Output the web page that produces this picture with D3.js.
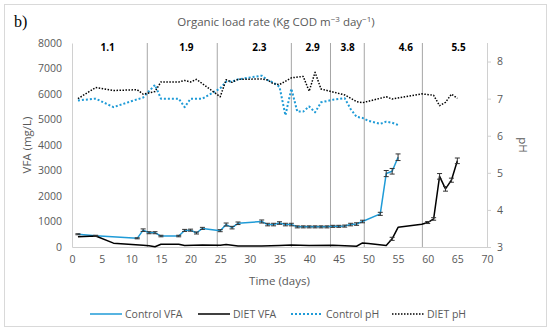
<!DOCTYPE html>
<html>
<head>
<meta charset="utf-8">
<script src="https://cdn.jsdelivr.net/npm/d3@7/dist/d3.min.js"></script>
<style>
  body { margin: 0; background: #fff; }
  text { font-family: "Open Sans", sans-serif; }
</style>
</head>
<body>
<svg id="chart" width="550" height="330"></svg>
<script>
// chart data
var controlVfaDays = [1, 4, 11, 12, 13, 14, 15, 18, 19, 20, 21, 22, 25, 26, 27, 28, 32, 33, 34, 35, 36, 37, 38, 39, 40, 41, 42, 43, 44, 45, 46, 47, 48, 49, 52, 53, 54, 55];
var controlVfa = [500, 440, 340, 660, 560, 560, 430, 430, 650, 660, 550, 730, 640, 880, 760, 930, 1000, 880, 880, 940, 880, 880, 790, 790, 790, 790, 790, 790, 810, 810, 820, 880, 900, 1000, 1300, 2880, 2970, 3520];
var controlVfaErr = [20, 20, 20, 50, 40, 40, 30, 30, 40, 40, 40, 40, 40, 60, 50, 50, 60, 50, 50, 50, 50, 50, 40, 40, 40, 40, 40, 40, 40, 40, 40, 50, 50, 50, 60, 120, 110, 130];

var dietVfaDays = [1, 4, 7, 12, 13, 14, 15, 18, 19, 22, 25, 26, 28, 32, 35, 37, 40, 44, 48, 49, 50, 53, 54, 55, 59, 60, 61, 62, 63, 64, 65];
var dietVfa = [400, 430, 150, 70, 50, 10, 110, 110, 60, 80, 70, 100, 40, 40, 60, 80, 60, 70, 30, 160, 140, 60, 320, 770, 890, 960, 1100, 2770, 2280, 2620, 3380];
var dietVfaErr = [0, 0, 0, 0, 0, 0, 0, 0, 0, 0, 0, 0, 0, 0, 0, 0, 0, 0, 0, 0, 0, 0, 60, 0, 0, 40, 50, 110, 90, 80, 110];

var controlPhDays = [1, 4, 7, 10, 12, 14, 15, 18, 19, 20, 22, 25, 26, 27, 28, 32, 33, 34, 35, 36, 37, 38, 39, 40, 41, 42, 44, 46, 47, 48, 49, 50, 52, 53, 54, 55];
var controlPh = [6.95, 7.0, 6.77, 6.93, 7.03, 7.37, 7.0, 7.0, 6.77, 7.0, 7.0, 7.28, 7.46, 7.46, 7.52, 7.62, 7.5, 7.43, 7.32, 6.55, 7.27, 6.65, 6.65, 6.79, 6.63, 6.9, 6.97, 7.01, 6.72, 6.51, 6.48, 6.4, 6.32, 6.38, 6.35, 6.29];

var dietPhDays = [1, 4, 7, 11, 12, 14, 15, 18, 19, 20, 21, 25, 26, 27, 28, 32, 33, 34, 35, 37, 39, 40, 41, 42, 44, 46, 48, 49, 51, 53, 54, 59, 61, 62, 63, 64, 65];
var dietPh = [7.0, 7.3, 7.22, 7.24, 7.12, 7.19, 7.45, 7.45, 7.49, 7.45, 7.52, 7.05, 7.51, 7.44, 7.52, 7.53, 7.5, 7.4, 7.38, 7.56, 7.6, 7.2, 7.71, 7.26, 7.18, 7.1, 6.92, 6.89, 6.97, 7.05, 6.99, 7.13, 7.09, 6.81, 6.9, 7.12, 7.01];

var olrLabels = ["1.1", "1.9", "2.3", "2.9", "3.8", "4.6", "5.5"];
var olrLabelDays = [6, 19.3, 31.6, 40.6, 46.5, 56.3, 65.2];
var olrBreakDays = [12.7, 24.5, 37, 43.6, 49.3, 59.1];

var xTicks = d3.range(0, 71, 5);
var vfaTicks = d3.range(0, 8001, 1000);
var phTicks = [3, 4, 5, 6, 7, 8];

var blue = "#1f9bd7";
var grey = "#595959";

var margin = { left: 72, right: 63, top: 43, bottom: 83 };
var width = 550, height = 330;

var svg = d3.select("#chart");

var x = d3.scaleLinear().domain([0, 70]).range([margin.left, width - margin.right]);
var yVfa = d3.scaleLinear().domain([0, 8000]).range([height - margin.bottom, margin.top]);
var yPh = d3.scaleLinear().domain([3, 8.5]).range([height - margin.bottom, margin.top]);

// outer frame
svg.append("rect")
    .attr("x", 4.5).attr("y", 4.5)
    .attr("width", 542).attr("height", 322)
    .attr("fill", "#fff")
    .attr("stroke", "#d9d9d9");

svg.append("text")
    .attr("x", 14).attr("y", 27)
    .style("font-family", "'Liberation Serif', serif")
    .style("font-size", "16px")
    .attr("fill", "#000")
    .text("b)");

var title = svg.append("text")
    .attr("x", 276).attr("y", 26)
    .attr("text-anchor", "middle")
    .style("font-size", "11.5px")
    .attr("fill", grey);
title.append("tspan").text("Organic load rate (Kg COD m");
title.append("tspan").attr("dy", -4).style("font-size", "8px").text("\u22123");
title.append("tspan").attr("dy", 4).text(" day");
title.append("tspan").attr("dy", -4).style("font-size", "8px").text("\u22121");
title.append("tspan").attr("dy", 4).text(")");

// axes
var fmt = d3.format("d");
var xAxis = d3.axisBottom(x).tickValues(xTicks).tickFormat(fmt).tickSize(0).tickPadding(9);
var leftAxis = d3.axisLeft(yVfa).tickValues(vfaTicks).tickFormat(fmt).tickSize(0).tickPadding(10);
var rightAxis = d3.axisRight(yPh).tickValues(phTicks).tickFormat(fmt).tickSize(4).tickPadding(6);

var gx = svg.append("g")
    .attr("transform", "translate(0," + (height - margin.bottom) + ")")
    .call(xAxis);
var gl = svg.append("g")
    .attr("transform", "translate(" + margin.left + ",0)")
    .call(leftAxis);
var gr = svg.append("g")
    .attr("transform", "translate(" + (width - margin.right) + ",0)")
    .call(rightAxis);

[gx, gl, gr].forEach(function (g) {
    g.select(".domain").attr("stroke", "#d0d0d0").attr("stroke-width", 1);
    g.selectAll(".tick line").attr("stroke", "#d0d0d0");
    g.selectAll(".tick text")
        .attr("fill", grey)
        .style("font-family", "'Open Sans', sans-serif")
        .style("font-size", "10.5px");
});
gr.select(".domain").attr("d", "M0.5," + yPh(8.5) + "V" + yPh(3));

// period separators
svg.selectAll(".sep")
    .data(olrBreakDays)
    .enter().append("line")
    .attr("class", "sep")
    .attr("x1", function (d) { return x(d); })
    .attr("x2", function (d) { return x(d); })
    .attr("y1", margin.top)
    .attr("y2", height - margin.bottom)
    .attr("stroke", "#a6a6a6")
    .attr("stroke-width", 1);

svg.selectAll(".olr")
    .data(olrLabels)
    .enter().append("text")
    .attr("class", "olr")
    .attr("x", function (d, i) { return x(olrLabelDays[i]); })
    .attr("y", margin.top + 8)
    .attr("text-anchor", "middle")
    .style("font-size", "10px")
    .style("font-weight", "bold")
    .attr("fill", "#000")
    .text(function (d) { return d; });

// axis titles
svg.append("text")
    .attr("transform", "translate(31," + ((margin.top + height - margin.bottom) / 2) + ") rotate(-90)")
    .attr("text-anchor", "middle")
    .style("font-size", "11.5px")
    .attr("fill", grey)
    .text("VFA (mg/L)");

svg.append("text")
    .attr("transform", "translate(519," + ((margin.top + height - margin.bottom) / 2) + ") rotate(90)")
    .attr("text-anchor", "middle")
    .style("font-size", "11.5px")
    .attr("fill", grey)
    .text("pH");

svg.append("text")
    .attr("x", x(35)).attr("y", 285)
    .attr("text-anchor", "middle")
    .style("font-size", "11.5px")
    .attr("fill", grey)
    .text("Time (days)");

function zip(days, vals, errs) {
    return days.map(function (d, i) { return { day: d, v: vals[i], e: errs ? errs[i] : 0 }; });
}

var vfaLine = d3.line()
    .x(function (d) { return x(d.day); })
    .y(function (d) { return yVfa(d.v); });
var phLine = d3.line()
    .x(function (d) { return x(d.day); })
    .y(function (d) { return yPh(d.v); });

var series = [
    { name: "Control pH", data: zip(controlPhDays, controlPh), line: phLine, color: blue, width: 2, dash: "2,2" },
    { name: "DIET pH", data: zip(dietPhDays, dietPh), line: phLine, color: "#000", width: 1.5, dash: "1.5,1.5" },
    { name: "Control VFA", data: zip(controlVfaDays, controlVfa, controlVfaErr), line: vfaLine, color: blue, width: 1.5, dash: null },
    { name: "DIET VFA", data: zip(dietVfaDays, dietVfa, dietVfaErr), line: vfaLine, color: "#000", width: 1.5, dash: null }
];

series.forEach(function (s) {
    svg.append("path")
        .datum(s.data)
        .attr("d", s.line)
        .attr("fill", "none")
        .attr("stroke", s.color)
        .attr("stroke-width", s.width)
        .attr("stroke-dasharray", s.dash)
        .attr("stroke-linejoin", "round");
});

// error bars on the VFA series
[series[2], series[3]].forEach(function (s) {
    var eb = svg.append("g")
        .attr("stroke", "#333")
        .attr("stroke-width", 1);
    s.data.filter(function (d) { return d.e > 0; }).forEach(function (d) {
        var cx = x(d.day);
        var top = yVfa(d.v + d.e), bot = yVfa(d.v - d.e);
        eb.append("line").attr("x1", cx).attr("x2", cx).attr("y1", top).attr("y2", bot);
        eb.append("line").attr("x1", cx - 2.5).attr("x2", cx + 2.5).attr("y1", top).attr("y2", top);
        eb.append("line").attr("x1", cx - 2.5).attr("x2", cx + 2.5).attr("y1", bot).attr("y2", bot);
    });
});

// legend
var legendItems = [
    { s: series[2], x: 90 },
    { s: series[3], x: 198 },
    { s: series[0], x: 291 },
    { s: series[1], x: 392 }
];
var lg = svg.selectAll(".legend")
    .data(legendItems)
    .enter().append("g")
    .attr("class", "legend")
    .attr("transform", function (d) { return "translate(" + d.x + ",314)"; });
lg.append("line")
    .attr("x1", 0).attr("x2", 32)
    .attr("stroke", function (d) { return d.s.color; })
    .attr("stroke-width", function (d) { return d.s.width; })
    .attr("stroke-dasharray", function (d) { return d.s.dash; });
lg.append("text")
    .attr("x", 35).attr("dy", "0.35em")
    .style("font-size", "10.5px")
    .attr("fill", grey)
    .text(function (d) { return d.s.name; });
</script>
</body>
</html>
